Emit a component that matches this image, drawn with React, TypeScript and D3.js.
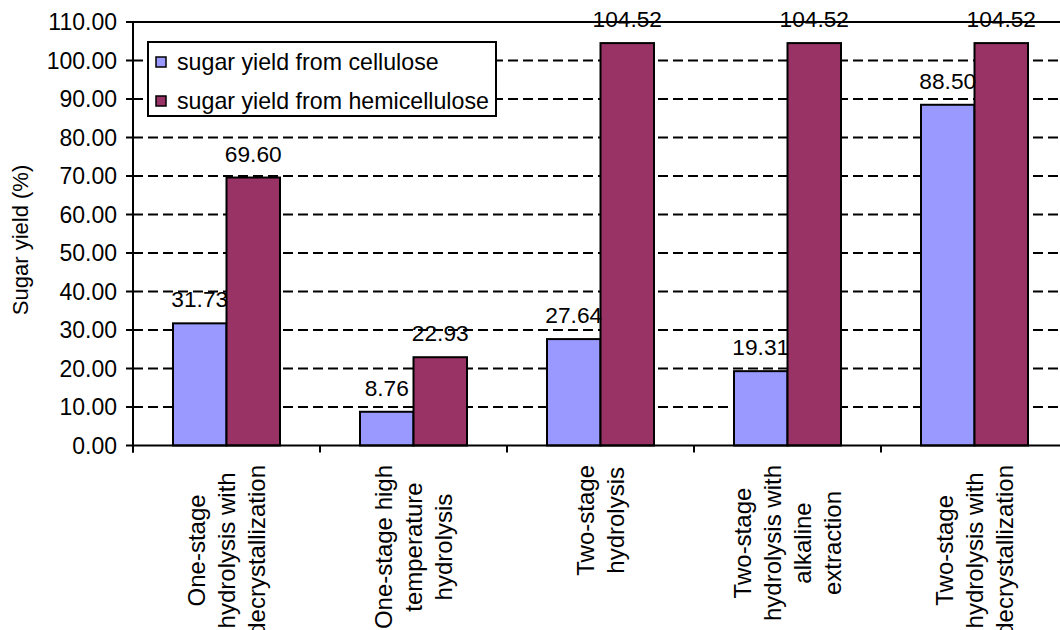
import React, { useRef, useEffect } from "react";
import * as d3 from "d3";

const categories = [
  ["One-stage", "hydrolysis with", "decrystallization"],
  ["One-stage high", "temperature", "hydrolysis"],
  ["Two-stage", "hydrolysis"],
  ["Two-stage", "hydrolysis with", "alkaline", "extraction"],
  ["Two-stage", "hydrolysis with", "decrystallization"],
];
const seriesNames = ["sugar yield from cellulose", "sugar yield from hemicellulose"];
const seriesColors = ["#9999FF", "#993366"];
const cellulose = [31.73, 8.76, 27.64, 19.31, 88.5];
const hemicellulose = [69.6, 22.93, 104.52, 104.52, 104.52];
const yTicks = [0, 10, 20, 30, 40, 50, 60, 70, 80, 90, 100, 110];

const FONT = "Arial, 'Liberation Sans', sans-serif";

const App: React.FC = () => {
  const ref = useRef<SVGSVGElement | null>(null);

  useEffect(() => {
    const svg = d3.select(ref.current);
    svg.selectAll("*").remove();

    const W = 1060;
    const left = 133;
    const top = 22;
    const bottom = 445.5;
    const band = 187;

    const x = d3
      .scaleBand<number>()
      .domain(d3.range(categories.length))
      .range([left, left + band * categories.length])
      .padding(0);
    const groupW = 107;
    const x1 = d3
      .scaleBand<number>()
      .domain([0, 1])
      .range([-groupW / 2, groupW / 2]);
    const y = d3.scaleLinear().domain([0, 110]).range([bottom, top]);

    const values = [cellulose, hemicellulose];

    // dashed grid lines
    svg
      .append("g")
      .selectAll("line")
      .data(yTicks.filter((t) => t > 0 && t < 110))
      .join("line")
      .attr("x1", left)
      .attr("x2", W)
      .attr("y1", (d) => y(d))
      .attr("y2", (d) => y(d))
      .attr("stroke", "#000")
      .attr("stroke-width", 2)
      .attr("stroke-dasharray", "10,5");

    // top border
    svg
      .append("line")
      .attr("x1", left)
      .attr("x2", W)
      .attr("y1", y(110))
      .attr("y2", y(110))
      .attr("stroke", "#000")
      .attr("stroke-width", 2);

    // bars
    const groups = svg
      .append("g")
      .selectAll("g")
      .data(categories.map((_, i) => i))
      .join("g")
      .attr("transform", (i) => `translate(${x(i)! + x.bandwidth() / 2},0)`);

    groups
      .selectAll("rect")
      .data((i) => values.map((s, k) => ({ k, v: s[i] })))
      .join("rect")
      .attr("x", (d) => x1(d.k)!)
      .attr("width", x1.bandwidth())
      .attr("y", (d) => y(d.v))
      .attr("height", (d) => bottom - y(d.v))
      .attr("fill", (d) => seriesColors[d.k])
      .attr("stroke", "#000")
      .attr("stroke-width", 2);

    groups
      .selectAll("text")
      .data((i) => values.map((s, k) => ({ k, v: s[i] })))
      .join("text")
      .attr("x", (d) => x1(d.k)! + x1.bandwidth() / 2)
      .attr("y", (d) => y(d.v) - 16)
      .attr("text-anchor", "middle")
      .style("font-family", FONT)
      .style("font-size", "22.7px")
      .attr("fill", "#000")
      .text((d) => d.v.toFixed(2));

    // axes
    const axis = svg.append("g").attr("stroke", "#000").attr("stroke-width", 2);
    axis.append("line").attr("x1", left).attr("x2", left).attr("y1", top - 1).attr("y2", bottom + 7);
    axis.append("line").attr("x1", left - 1).attr("x2", W).attr("y1", bottom).attr("y2", bottom);
    axis
      .selectAll("line.yt")
      .data(yTicks)
      .join("line")
      .attr("class", "yt")
      .attr("x1", left - 7)
      .attr("x2", left)
      .attr("y1", (d) => y(d))
      .attr("y2", (d) => y(d));
    axis
      .selectAll("line.xt")
      .data(d3.range(categories.length + 1))
      .join("line")
      .attr("class", "xt")
      .attr("x1", (i) => left + band * i)
      .attr("x2", (i) => left + band * i)
      .attr("y1", bottom)
      .attr("y2", bottom + 7);

    svg
      .append("g")
      .selectAll("text")
      .data(yTicks)
      .join("text")
      .attr("x", 117)
      .attr("y", (d) => y(d))
      .attr("dy", "0.35em")
      .attr("text-anchor", "end")
      .style("font-family", FONT)
      .style("font-size", "23px")
      .text((d) => d.toFixed(2));

    // y title
    svg
      .append("text")
      .attr("transform", "translate(20,240) rotate(-90)")
      .attr("text-anchor", "middle")
      .attr("dominant-baseline", "central")
      .style("font-family", FONT)
      .style("font-size", "22px")
      .text("Sugar yield (%)");

    // category labels: lines centred on the longest one, which starts at y=465
    const lineGap = 30;
    categories.forEach((lines, i) => {
      const cx = x(i)! + x.bandwidth() / 2;
      const g = svg.append("g");
      const texts = lines.map((ln) =>
        g
          .append("text")
          .attr("text-anchor", "middle")
          .attr("dominant-baseline", "central")
          .style("font-family", FONT)
          .style("font-size", "24px")
          .text(ln)
      );
      const maxLen = d3.max(texts, (t) => (t.node() as SVGTextElement).getComputedTextLength()) || 0;
      const cy = 465 + maxLen / 2;
      texts.forEach((t, j) => {
        const lx = cx + (j - (lines.length - 1) / 2) * lineGap;
        t.attr("transform", `translate(${lx},${cy}) rotate(-90)`);
      });
    });

    // legend
    const legend = svg.append("g");
    legend
      .append("rect")
      .attr("x", 148)
      .attr("y", 42)
      .attr("width", 348)
      .attr("height", 74)
      .attr("fill", "#fff")
      .attr("stroke", "#000")
      .attr("stroke-width", 2);
    seriesNames.forEach((name, k) => {
      const cy = 62 + k * 39;
      legend
        .append("rect")
        .attr("x", 156)
        .attr("y", cy - 5)
        .attr("width", 10)
        .attr("height", 10)
        .attr("fill", seriesColors[k])
        .attr("stroke", "#000")
        .attr("stroke-width", 1.5);
      legend
        .append("text")
        .attr("x", 177)
        .attr("y", cy)
        .attr("dy", "0.35em")
        .style("font-family", FONT)
        .style("font-size", "23.2px")
        .text(name);
    });
  }, []);

  return (
    <svg
      ref={ref}
      width={1060}
      height={630}
      style={{ position: "absolute", left: 0, top: 0, background: "#fff" }}
    />
  );
};

export default App;
